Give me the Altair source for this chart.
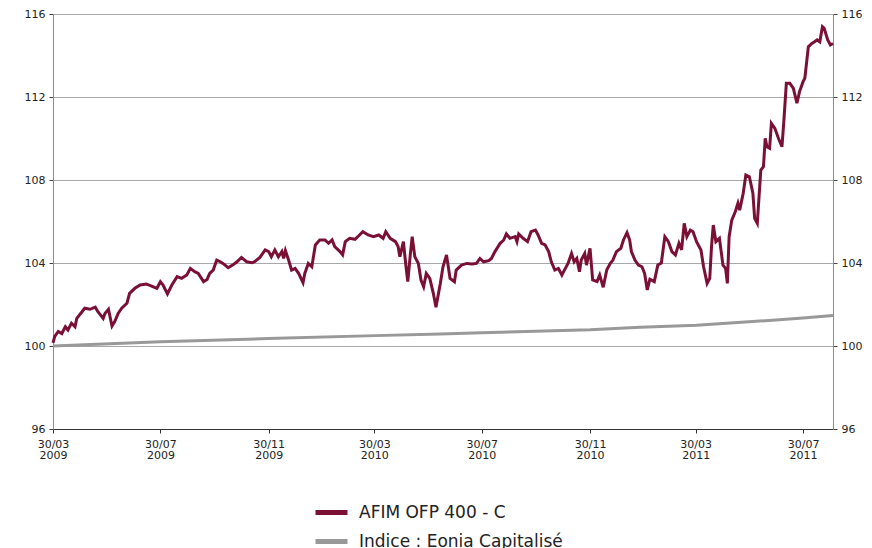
import altair as alt
import pandas as pd

START = "2009-03-30"
SERIES_FUND = "AFIM OFP 400 - C"
SERIES_EONIA = "Indice : Eonia Capitalisé"

# day offsets from 30/03/2009 and values
fund_days = [0, 2, 6, 10, 14, 17, 21, 25, 27, 33, 36, 42, 48, 51, 57, 59, 63, 67, 70, 74,
             78, 84, 87, 93, 99, 106, 112, 118, 122, 125, 130, 135, 141, 146, 152, 156, 161, 165, 171, 175,
             178, 182, 186, 190, 193, 199, 204, 209, 214, 220, 226, 229, 235, 241, 245, 248, 252, 256, 260, 262,
             264, 267, 271, 275, 279, 284, 286, 290, 294, 298, 303, 309, 313, 317, 320, 326, 329, 332, 337, 343,
             347, 352, 358, 364, 370, 375, 378, 383, 389, 392, 394, 398, 401, 403, 406, 408, 411, 415, 418, 421,
             424, 428, 432, 435, 440, 443, 447, 451, 456, 458, 464, 470, 476, 481, 485, 489, 495, 498, 502, 508,
             512, 515, 519, 525, 527, 529, 534, 539, 543, 548, 551, 555, 559, 563, 566, 570, 574, 578, 582, 585,
             589, 592, 595, 598, 600, 604, 606, 610, 613, 618, 621, 625, 629, 633, 636, 640, 645, 648, 652, 655,
             657, 661, 665, 669, 672, 675, 678, 683, 687, 691, 695, 699, 703, 707, 711, 714, 717, 720, 724, 727,
             731, 736, 739, 743, 746, 748, 750, 753, 757, 761, 764, 766, 768, 771, 775, 778, 780, 784, 787, 791,
             795, 797, 800, 802, 804, 807, 809, 811, 814, 816, 820, 824, 828, 830, 833, 837, 841, 845, 848, 852,
             854, 858, 862, 865, 868, 871, 874, 876, 880, 883, 886]
fund_values = [100.15, 100.46, 100.7, 100.6, 100.93, 100.77, 101.1, 100.93, 101.33, 101.65, 101.82, 101.77, 101.87, 101.65, 101.33, 101.57, 101.77, 100.96, 101.17, 101.57,
               101.82, 102.06, 102.54, 102.78, 102.94, 102.99, 102.89, 102.78, 103.1, 102.94, 102.51, 102.94, 103.34, 103.26, 103.42, 103.74, 103.58, 103.5, 103.1, 103.21,
               103.5, 103.66, 104.14, 104.06, 103.98, 103.77, 103.9, 104.06, 104.27, 104.06, 104.01, 104.06, 104.27, 104.63, 104.55, 104.3, 104.63, 104.3, 104.55, 104.22,
               104.6, 104.22, 103.66, 103.74, 103.5, 103.05, 103.5, 103.98, 103.82, 104.87, 105.11, 105.11, 104.95, 105.11, 104.79, 104.55, 104.39, 105.03, 105.19, 105.14,
               105.3, 105.51, 105.35, 105.27, 105.35, 105.19, 105.51, 105.19, 105.03, 104.79, 104.3, 105.03, 103.82, 103.1, 104.46, 105.27, 104.3, 103.98, 103.18, 102.86,
               103.5, 103.26, 102.54, 101.87, 103.02, 103.82, 104.39, 103.26, 103.1, 103.66, 103.9, 103.98, 103.95, 103.98, 104.22, 104.06, 104.11, 104.22, 104.55, 104.95,
               105.11, 105.4, 105.19, 105.27, 105.03, 105.4, 105.19, 105.03, 105.51, 105.59, 105.35, 104.95, 104.87, 104.55, 104.06, 103.66, 103.74, 103.42, 103.74, 103.98,
               104.46, 104.06, 104.22, 103.58, 104.14, 104.46, 103.9, 104.71, 103.18, 103.1, 103.42, 102.83, 103.66, 103.98, 104.14, 104.55, 104.71, 105.11, 105.46, 105.11,
               104.55, 104.14, 103.9, 103.82, 103.5, 102.7, 103.22, 103.1, 103.9, 104.0, 105.27, 105.03, 104.55, 104.39, 104.95, 104.63, 105.91, 105.27, 105.59, 105.51,
               105.03, 104.63, 103.82, 103.02, 103.26, 104.79, 105.83, 105.03, 105.19, 103.9, 103.74, 103.02, 105.27, 106.07, 106.47, 106.88, 106.55, 107.36, 108.24, 108.16,
               107.36, 106.15, 105.91, 107.2, 108.48, 108.64, 110.01, 109.6, 109.53, 110.73, 110.49, 110.01, 109.6, 110.73, 112.66, 112.66, 112.42, 111.7, 112.26, 112.74,
               112.9, 114.42, 114.58, 114.66, 114.75, 114.66, 115.39, 115.31, 114.75, 114.51, 114.58]

eonia_days = [0, 122, 244, 366, 440, 487, 610, 667, 731, 803, 852, 886]
eonia_values = [100.0, 100.2, 100.36, 100.5, 100.58, 100.64, 100.78, 100.9, 101.0, 101.2, 101.35, 101.47]

y_ticks = [96, 100, 104, 108, 112, 116]
x_tick_dates = [(2009, 3), (2009, 7), (2009, 11), (2010, 3), (2010, 7), (2010, 11), (2011, 3), (2011, 7)]


def to_dates(days):
    return [(pd.Timestamp(START) + pd.Timedelta(days=d)).strftime("%Y-%m-%dT%H:%M:%S") for d in days]


df = pd.concat([
    pd.DataFrame({"date": to_dates(eonia_days), "value": eonia_values, "series": SERIES_EONIA, "o": 0}),
    pd.DataFrame({"date": to_dates(fund_days), "value": fund_values, "series": SERIES_FUND, "o": 1}),
], ignore_index=True)

FONT = "DejaVu Sans"
x_domain = [alt.DateTime(year=2009, month=3, date=30),
            alt.DateTime(year=2011, month=9, date=2)]

x_enc = alt.X(
    "date:T",
    scale=alt.Scale(domain=x_domain),
    axis=alt.Axis(
        values=[alt.DateTime(year=y, month=m, date=30) for y, m in x_tick_dates],
        labelExpr="[timeFormat(datum.value, '%d/%m'), timeFormat(datum.value, '%Y')]",
        title=None, grid=False, domainColor="#333333", tickColor="#333333", tickSize=4,
        labelPadding=5, labelLineHeight=11, labelFont=FONT, labelFontSize=11,
        labelColor="#222222", labelFlush=False, labelOverlap=False,
    ),
)

y_scale = alt.Scale(domain=[96, 116], nice=False, zero=False)

lines = alt.Chart(df).mark_line(strokeWidth=3).encode(
    x=x_enc,
    y=alt.Y("value:Q", scale=y_scale, axis=alt.Axis(
        values=y_ticks, title=None, grid=True, gridColor="#a8a8a8", gridWidth=1,
        domainColor="#8c8c8c", tickColor="#444444", tickSize=4, labelPadding=4,
        labelFont=FONT, labelFontSize=11, labelColor="#222222")),
    color=alt.Color("series:N",
                    scale=alt.Scale(domain=[SERIES_FUND, SERIES_EONIA], range=["#7a1034", "#999999"]),
                    legend=alt.Legend(title=None, orient="none", legendX=260, legendY=480,
                                      direction="vertical", symbolType="stroke", symbolSize=1024,
                                      symbolStrokeWidth=5, labelFont=FONT, labelFontSize=17,
                                      labelColor="#222222", labelOffset=9, labelLimit=500,
                                      rowPadding=-2, padding=0)),
    detail="series:N",
    order="o:Q",
)

right = alt.Chart(df).mark_line(opacity=0).encode(
    x=x_enc,
    y=alt.Y("value:Q", scale=y_scale, axis=alt.Axis(
        orient="right", values=y_ticks, title=None, grid=False,
        domainColor="#8c8c8c", tickColor="#444444", tickSize=4, labelPadding=4,
        labelFont=FONT, labelFontSize=11, labelColor="#222222")),
)

chart = alt.layer(lines, right).resolve_scale(y="independent").properties(
    width=780, height=415,
    autosize=alt.AutoSizeParams(type="none"),
    padding={"left": 45, "top": 6, "right": 31, "bottom": 119},
).configure_view(stroke=None)

chart.save("out.html", embed_options={"renderer": "svg", "actions": False})
